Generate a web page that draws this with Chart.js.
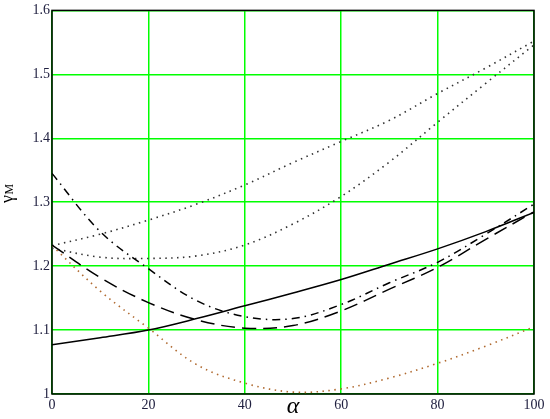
<!DOCTYPE html>
<html>
<head>
<meta charset="utf-8">
<script src="https://cdn.jsdelivr.net/npm/chart.js@4"></script>
<style>
  html, body { margin: 0; padding: 0; background: #fff; }
  #wrap { width: 550px; height: 419px; }
</style>
</head>
<body>
<div id="wrap"><canvas id="chart"></canvas></div>
<script>
const alpha = [0, 10, 20, 30, 40, 50, 60, 70, 80, 90, 100];
const solidLine = [1.077, 1.088, 1.100, 1.118, 1.138, 1.158, 1.179, 1.203, 1.227, 1.254, 1.284];
const dashedLine = [1.233, 1.182, 1.143, 1.116, 1.103, 1.107, 1.130, 1.164, 1.198, 1.242, 1.285];
const dashDotLine = [1.345, 1.254, 1.196, 1.146, 1.121, 1.118, 1.140, 1.174, 1.206, 1.250, 1.297];
const upperDotted = [1.232, 1.250, 1.272, 1.297, 1.327, 1.362, 1.395, 1.428, 1.470, 1.510, 1.552];
const lowerDotted = [1.228, 1.214, 1.212, 1.216, 1.233, 1.266, 1.309, 1.363, 1.425, 1.486, 1.546];
const brownDotted = [1.232, 1.161, 1.103, 1.046, 1.017, 1.003, 1.008, 1.025, 1.048, 1.075, 1.105];

const xTicks = [0, 20, 40, 60, 80, 100];
const yTicks = [1, 1.1, 1.2, 1.3, 1.4, 1.5, 1.6];
const yTickLabels = ['1', '1.1', '1.2', '1.3', '1.4', '1.5', '1.6'];

const toPoints = ys => alpha.map((a, i) => ({ x: a, y: ys[i] }));

const serif = '"Liberation Serif", "DejaVu Serif", serif';

const line = (data, color, dash, width) => ({
    data: toPoints(data),
    borderColor: color,
    borderWidth: width,
    borderDash: dash,
    pointRadius: 0,
    tension: 0.35,
    fill: false
});

// black box round the plot and the y title (gamma with small M)
const frame = {
    id: 'frame',
    beforeDatasetsDraw(chart) {
        const { ctx, chartArea: a } = chart;
        ctx.save();
        ctx.strokeStyle = '#000';
        ctx.lineWidth = 1.5;
        ctx.strokeRect(a.left, a.top, a.right - a.left, a.bottom - a.top);
        ctx.restore();
    },
    afterDraw(chart) {
        const ctx = chart.ctx;
        ctx.save();
        ctx.translate(12.5, 203);
        ctx.rotate(-Math.PI / 2);
        ctx.fillStyle = '#000';
        ctx.textBaseline = 'alphabetic';
        ctx.textAlign = 'left';
        ctx.font = '18px ' + serif;
        ctx.fillText('γ', 0, 0);
        const w = ctx.measureText('γ').width;
        ctx.font = '12px ' + serif;
        ctx.fillText('M', w + 0.5, 0);
        ctx.restore();
    }
};

new Chart(document.getElementById('chart'), {
    type: 'line',
    data: {
        datasets: [
            line(solidLine, '#000', [], 1.5),
            line(dashedLine, '#000', [14, 7], 1.5),
            line(dashDotLine, '#000', [8, 5, 1.5, 5], 1.5),
            line(upperDotted, '#333', [1.5, 4.5], 1.6),
            line(lowerDotted, '#333', [1.5, 4.5], 1.6),
            line(brownDotted, '#b06a30', [1.5, 4.5], 1.6)
        ]
    },
    options: {
        responsive: true,
        maintainAspectRatio: false,
        animation: false,
        layout: { padding: { left: 0, right: 16, top: 7, bottom: 0 } },
        plugins: {
            legend: { display: false },
            tooltip: { enabled: false }
        },
        scales: {
            x: {
                type: 'linear',
                min: 0,
                max: 100,
                afterBuildTicks: s => { s.ticks = xTicks.map(v => ({ value: v })); },
                afterFit: s => { s.height = 25; },
                border: { display: false },
                grid: { color: '#00ff00', lineWidth: 1.5, drawTicks: false },
                ticks: {
                    padding: 3,
                    color: '#202040',
                    font: { family: serif, size: 14 },
                    maxRotation: 0,
                    callback: v => String(v)
                },
                title: {
                    display: true,
                    text: 'α',
                    color: '#000',
                    padding: 0,
                    font: { family: serif, size: 24, style: 'italic', lineHeight: 1 }
                }
            },
            y: {
                min: 1,
                max: 1.6,
                afterBuildTicks: s => { s.ticks = yTicks.map(v => ({ value: v })); },
                afterFit: s => { s.width = 52; },
                border: { display: false },
                grid: { color: '#00ff00', lineWidth: 1.5, drawTicks: false },
                ticks: {
                    padding: 2,
                    color: '#202040',
                    font: { family: serif, size: 14 },
                    callback: (v, i) => yTickLabels[i]
                }
            }
        }
    },
    plugins: [frame]
});
</script>
</body>
</html>
